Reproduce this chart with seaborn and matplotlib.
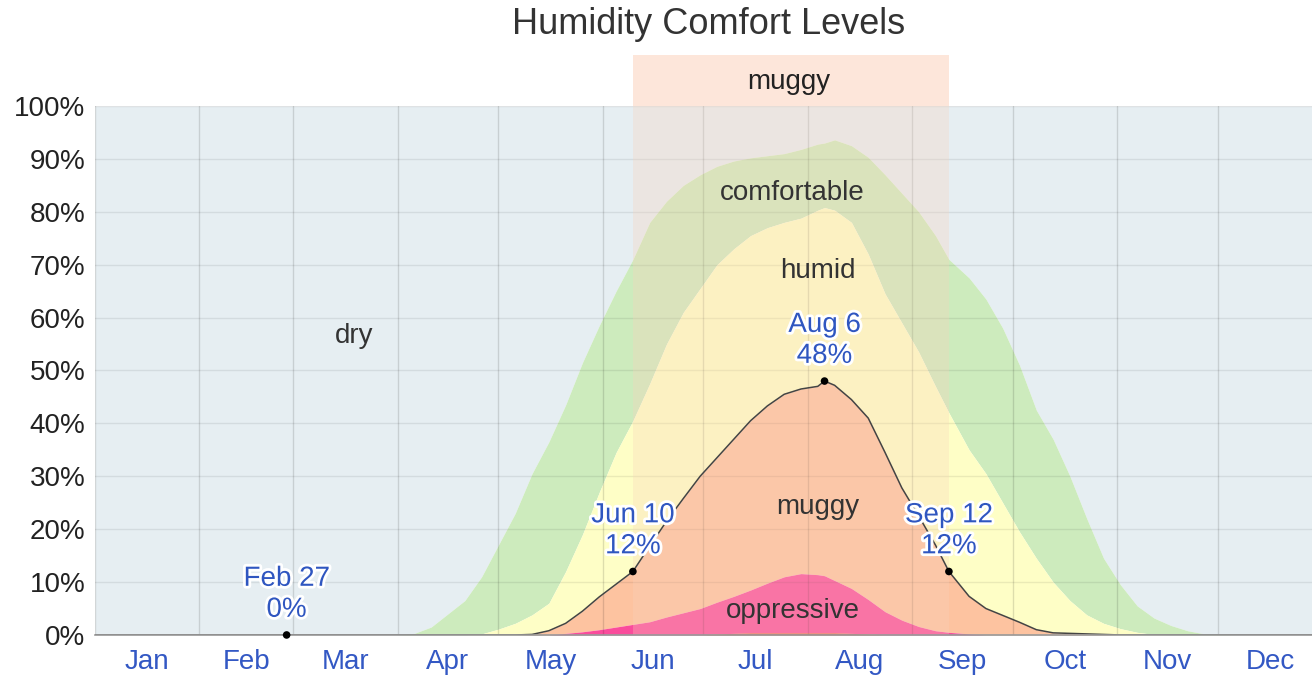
import numpy as np
import pandas as pd
import seaborn as sns
import matplotlib.pyplot as plt
import matplotlib.patheffects as pe
from matplotlib.patches import Rectangle

# day of year (0 = Jan 1) and cumulative band tops in percent
days = [0, 57, 90, 95, 100, 105, 110, 115, 120, 125, 130, 135, 140, 145, 150,
        155, 160, 165, 170, 175, 180, 185, 190, 195, 200, 205, 210, 215, 217,
        220, 225, 230, 235, 240, 245, 250, 254, 260, 265, 270, 275, 280, 285,
        290, 295, 300, 305, 310, 315, 320, 325, 330, 340, 362]

comfortable_top = [0, 0, 0, 0.3, 1.5, 4, 6.5, 11, 17, 23, 30.5, 36.5, 43.5, 51.5, 58.5,
                   65, 71, 78, 82, 85, 87, 88.6, 89.6, 90.2, 90.6, 91, 91.8, 92.8, 93,
                   93.6, 92.5, 90.3, 87, 83.5, 80, 75.5, 71, 67.5, 63.5, 58, 51, 42.5, 37,
                   30, 22, 14.5, 9.5, 5.5, 3.2, 1.8, 0.8, 0.2, 0, 0]

humid_top = [0, 0, 0, 0, 0, 0, 0, 0.2, 1.1, 2.2, 3.8, 6, 12, 19, 27,
             34.5, 40.5, 47.5, 55, 61, 65.5, 70, 73, 75.5, 77, 78, 78.8, 80.3, 80.8,
             80.3, 78, 72, 64.5, 59, 53.5, 47, 42, 35, 30.5, 25, 19.5, 14.5, 10,
             6.5, 3.8, 2.2, 1.2, 0.5, 0.1, 0, 0, 0, 0, 0]

muggy_top = [0, 0, 0, 0, 0, 0, 0, 0, 0, 0, 0.1, 0.8, 2.2, 4.5, 7.2,
             9.6, 12, 16.8, 21.5, 25.8, 30, 33.5, 37, 40.5, 43.3, 45.5, 46.5, 47, 48,
             47.2, 44.5, 41, 34.5, 27.8, 22.5, 17, 12, 7.3, 5, 3.7, 2.4, 1, 0.4,
             0.3, 0.2, 0.1, 0, 0, 0, 0, 0, 0, 0, 0]

oppressive_top = [0, 0, 0, 0, 0, 0, 0, 0, 0, 0, 0, 0, 0.3, 0.6, 1,
                  1.5, 2, 2.5, 3.4, 4.2, 5, 6.2, 7.3, 8.5, 9.8, 11, 11.6, 11.4, 11.2,
                  10.3, 8.8, 6.7, 4.4, 2.8, 1.6, 0.8, 0.5, 0.2, 0, 0, 0, 0, 0,
                  0, 0, 0, 0, 0, 0, 0, 0, 0, 0, 0]

miserable_top = [0, 0, 0, 0, 0, 0, 0, 0, 0, 0, 0, 0, 0, 0, 0,
                 0, 0, 0, 0, 0, 0, 0.2, 0.3, 0.4, 0.4, 0.4, 0.4, 0.4, 0.4,
                 0.4, 0.3, 0.2, 0, 0, 0, 0, 0, 0, 0, 0, 0, 0, 0,
                 0, 0, 0, 0, 0, 0, 0, 0, 0, 0, 0]

month_names = ['Jan', 'Feb', 'Mar', 'Apr', 'May', 'Jun',
               'Jul', 'Aug', 'Sep', 'Oct', 'Nov', 'Dec']
month_starts = [0, 31, 59, 90, 120, 151, 181, 212, 243, 273, 304, 334]
month_lengths = [31, 28, 31, 30, 31, 30, 31, 31, 30, 31, 30, 31]

# highlighted points on the muggy curve
marker_days = [57, 160, 217, 254]
marker_values = [0, 12, 48, 12]
marker_labels = ['Feb 27\n0%', 'Jun 10\n12%', 'Aug 6\n48%', 'Sep 12\n12%']

muggy_season = (160, 254)  # Jun 10 .. Sep 12

df = pd.DataFrame({'day': days, 'muggy': muggy_top})

sns.set_theme(style='white')
plt.rcParams['font.family'] = ['Liberation Sans', 'DejaVu Sans']

fig = plt.figure(figsize=(13.12, 6.76), dpi=100)
ax = fig.add_axes([0.0724, 0.0607, 0.9276, 0.7825])

c_dry = '#e6eef2'
c_comf = '#cdebbd'
c_humid = '#fefec6'
c_muggy = '#fdc3a0'
c_opp = '#fa4c9c'
c_mis = '#e8452f'

zeros = np.zeros(len(days))
ax.fill_between(days, comfortable_top, 100, color=c_dry, lw=0, zorder=1)
ax.fill_between(days, humid_top, comfortable_top, color=c_comf, lw=0, zorder=1)
ax.fill_between(days, muggy_top, humid_top, color=c_humid, lw=0, zorder=1)
ax.fill_between(days, oppressive_top, muggy_top, color=c_muggy, lw=0, zorder=1)
ax.fill_between(days, miserable_top, oppressive_top, color=c_opp, lw=0, zorder=1)
ax.fill_between(days, zeros, miserable_top, color=c_mis, lw=0, zorder=1)

# grid on top of the bands
for m in month_starts:
    ax.axvline(m, color='black', alpha=0.13, lw=1, zorder=2)
for yv in range(10, 101, 10):
    ax.axhline(yv, color='black', alpha=0.08, lw=1, zorder=2)

# muggy season band
ax.axvspan(muggy_season[0], muggy_season[1], color='#f9d3bb', alpha=0.3, lw=0, zorder=3)
ax.add_patch(Rectangle((muggy_season[0], 100), muggy_season[1] - muggy_season[0], 9.7,
                       facecolor='#fde6da', edgecolor='none', clip_on=False, zorder=3))
ax.text(sum(muggy_season) / 2 - 0.5, 104.6, 'muggy', ha='center', va='center',
        fontsize=20, color='#222222', zorder=5, clip_on=False)

sns.lineplot(data=df, x='day', y='muggy', color='#444444', lw=1.1, ax=ax, zorder=4)
sns.scatterplot(x=marker_days, y=marker_values, color='black', s=30, ax=ax,
                zorder=6, edgecolor='none', clip_on=False)

halo = [pe.withStroke(linewidth=4, foreground='white')]
for d, v, lab in zip(marker_days, marker_values, marker_labels):
    ax.text(d, v + 2.3, lab, ha='center', va='bottom', fontsize=20,
            color='#2f56c0', linespacing=1.25, path_effects=halo, zorder=7)

# band labels
band_text = dict(ha='center', va='center', fontsize=20, color='#333333', zorder=5)
ax.text(77, 56.5, 'dry', **band_text)
ax.text(207.5, 83.5, 'comfortable', **band_text)
ax.text(215, 68.8, 'humid', **band_text)
ax.text(215, 24.2, 'muggy', **band_text)
ax.text(207.5, 4.5, 'oppressive', **band_text)

ax.set_xlim(0, 362)
ax.set_ylim(0, 100)
ax.set_xlabel('')
ax.set_ylabel('')
ax.set_xticks([s + n / 2 for s, n in zip(month_starts, month_lengths)])
ax.set_xticklabels(month_names, fontsize=20, color='#3358c4')
ax.set_yticks(range(0, 101, 10))
ax.set_yticklabels([f'{v}%' for v in range(0, 101, 10)], fontsize=20, color='#222222')
ax.tick_params(axis='x', length=0, pad=10)
ax.tick_params(axis='y', length=0, pad=7)
for side in ['top', 'right', 'left']:
    ax.spines[side].set_visible(False)
ax.spines['bottom'].set_color('#999999')
ax.spines['bottom'].set_linewidth(1.2)
ax.spines['bottom'].set_zorder(4)

fig.text(0.54, 0.964, 'Humidity Comfort Levels', ha='center', va='center',
         fontsize=26, color='#333333')

fig.savefig('out.png', dpi=100)
